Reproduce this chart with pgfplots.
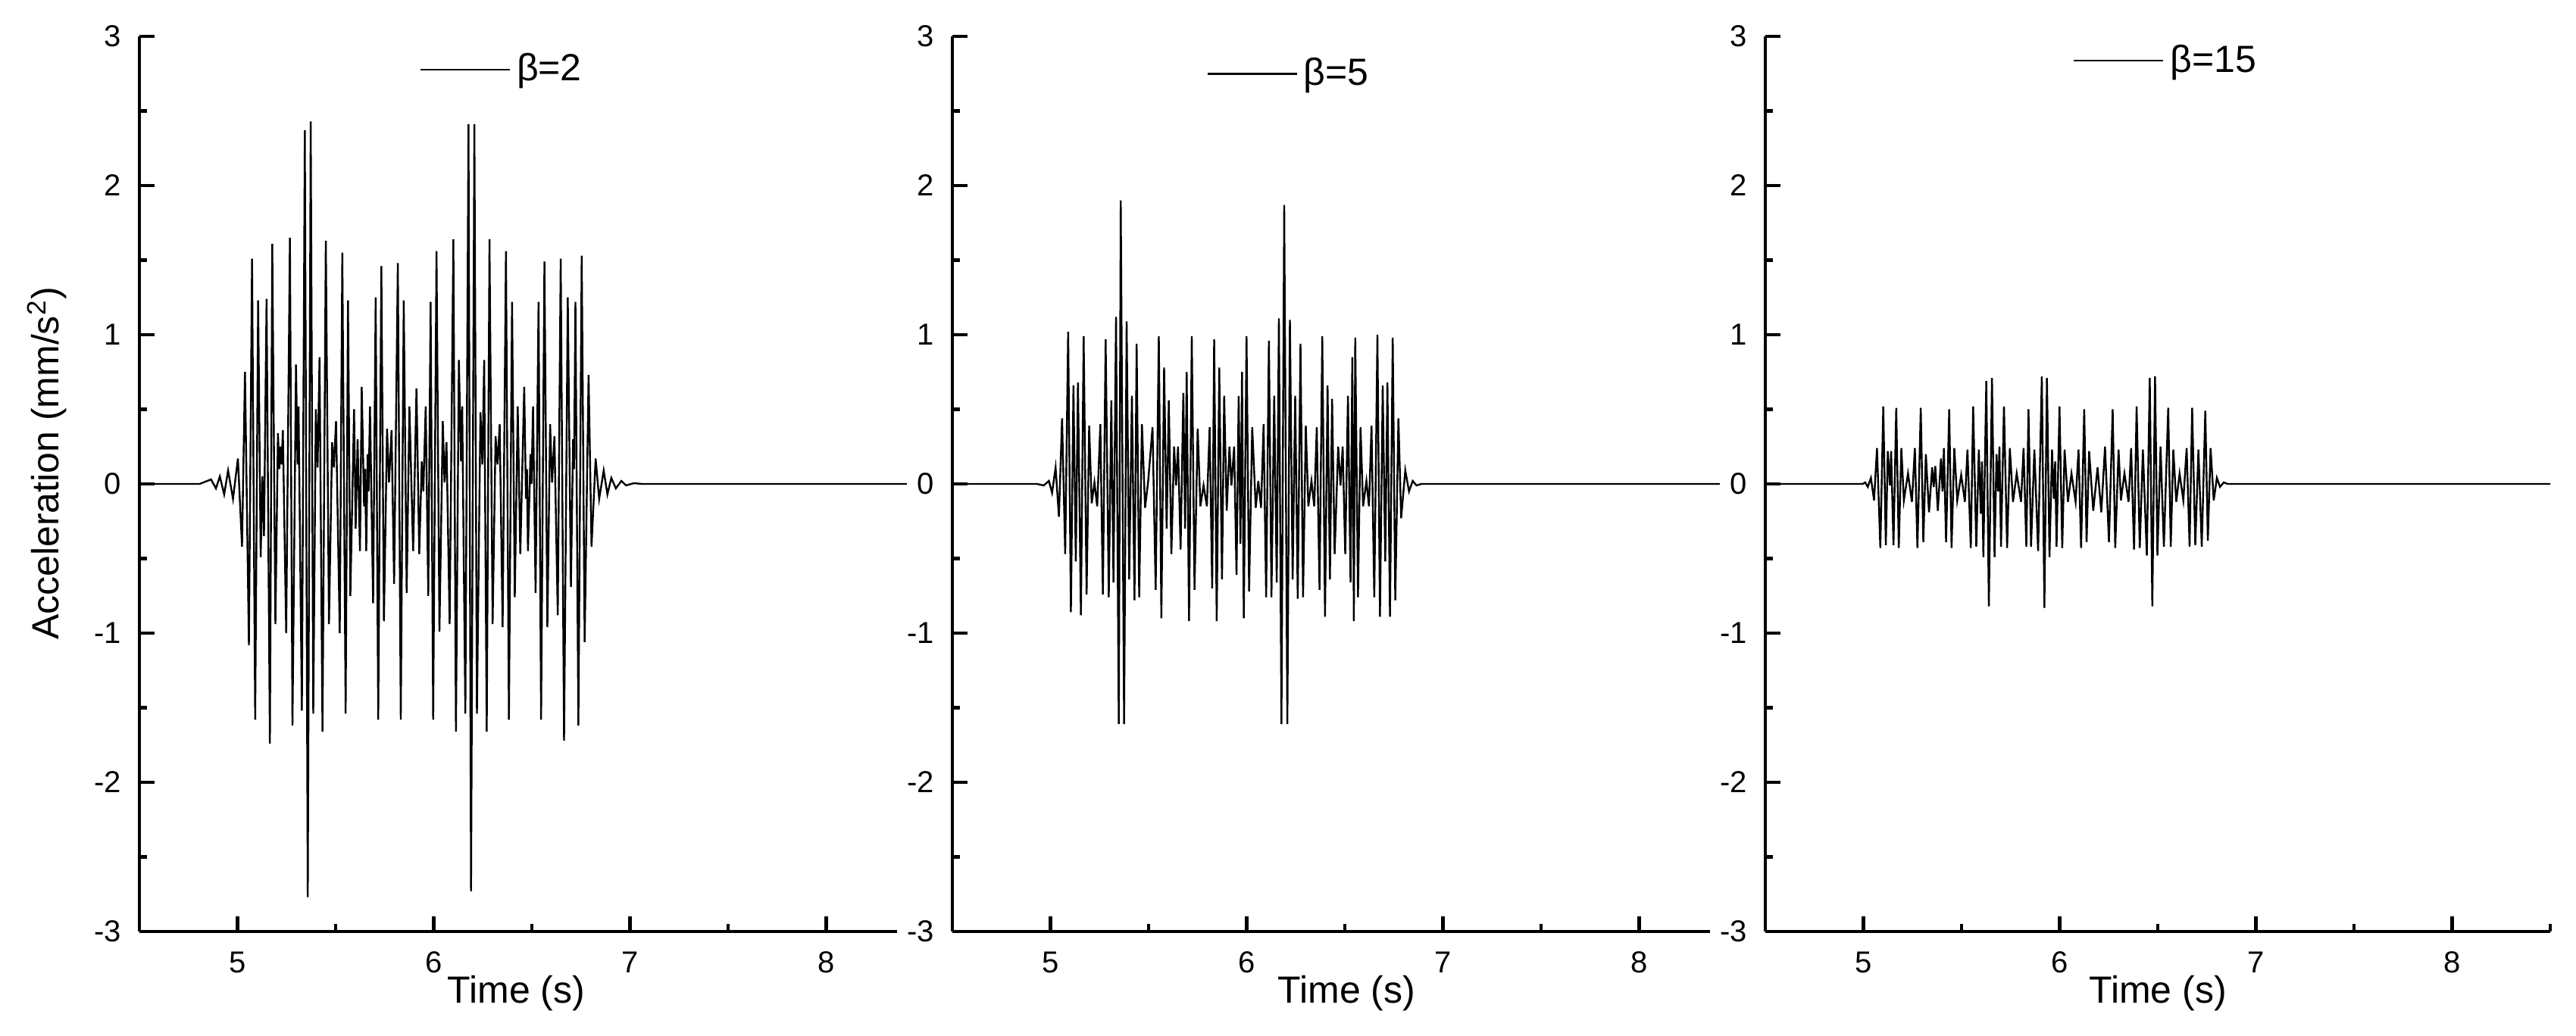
\documentclass[border=0pt]{standalone}
\usepackage{fontspec}
\setmainfont{Liberation Sans}
\usepackage{pgfplots}
\pgfplotsset{compat=1.18}

\pgfplotsset{
  accpanel/.style={
    width=259pt, height=295.5pt, scale only axis,
    xmin=4.5, xmax=8.5, ymin=-3, ymax=3,
    axis lines=left,
    axis line style={-, line width=1.2pt},
    every tick/.style={black, line width=1.2pt},
    tick align=inside,
    major tick length=5pt, minor tick length=2.5pt,
    xtick={5,6,7,8}, minor xtick={5.5,6.5,7.5,8.5},
    ytick={-3,-2,-1,0,1,2,3}, minor ytick={-2.5,-1.5,-0.5,0.5,1.5,2.5},
    xticklabels={5,6,7,8},
    yticklabels={-3,-2,-1,0,1,2,3},
    tick label style={font=\fontsize{10}{12}\selectfont},
    yticklabel style={fill=white, inner xsep=3.5pt, xshift=-2.25pt},
    xticklabel style={yshift=-3.2pt},
    xlabel={Time (s)},
    label style={font=\fontsize{12.5}{15}\selectfont},
    legend style={draw=none, fill=none, inner sep=0pt, anchor=west,
      font=\fontsize{12.5}{15}\selectfont},
    legend image code/.code={\draw[#1] (0pt,0pt) -- (29.5pt,0pt);},
  },
  wave/.style={black, line width=0.6pt, mark=none},
}

\begin{document}
\begin{tikzpicture}
\path[use as bounding box] (0,0) rectangle (850pt,342pt);

% beta = 2
\begin{axis}[accpanel, at={(46pt,34.5pt)}, anchor=south west,
  xlabel style={at={(axis description cs:0.48,0)}, anchor=center, yshift=-20.5pt},
  ylabel={Acceleration (mm/s\textsuperscript{2})},
  ylabel style={at={(axis description cs:0,0.523)}, anchor=center, yshift=30.5pt},
  legend style={at={(axis description cs:0.356,0.963)}}]
\addplot[wave] coordinates {
(4.5,0) (4.75,0) (4.807,0) (4.865,0.03) (4.890,-0.03) (4.910,0.05) (4.932,-0.07)
(4.952,0.09) (4.977,-0.10) (5.002,0.17) (5.023,-0.42) (5.038,0.75) (5.058,-1.08)
(5.074,1.51) (5.090,-1.58) (5.105,1.23) (5.118,-0.49) (5.127,0.05) (5.135,-0.35)
(5.148,1.24) (5.165,-1.74) (5.177,1.61) (5.193,-0.94) (5.206,0.34) (5.213,0.10)
(5.219,0.25) (5.225,0.13) (5.231,0.36) (5.248,-1.00) (5.267,1.65) (5.280,-1.62)
(5.298,0.80) (5.306,0.13) (5.311,0.52) (5.328,-1.52) (5.343,2.37) (5.358,-2.77)
(5.373,2.43) (5.386,-1.54) (5.399,0.50) (5.408,0.11) (5.418,0.85) (5.433,-1.66)
(5.450,1.63) (5.466,-0.94) (5.482,0.28) (5.491,0.11) (5.502,0.42) (5.521,-1.00)
(5.534,1.55) (5.551,-1.54) (5.563,1.23) (5.575,-0.75) (5.594,0.50) (5.602,-0.30)
(5.612,0.30) (5.624,-0.45) (5.633,0.65) (5.645,-0.15) (5.650,0.10) (5.656,-0.45)
(5.663,0.20) (5.668,-0.05) (5.675,0.52) (5.691,-0.80) (5.704,1.25) (5.717,-1.58)
(5.733,1.46) (5.746,-0.92) (5.762,0.37) (5.772,0.01) (5.785,0.36) (5.798,-0.67)
(5.817,1.48) (5.832,-1.58) (5.847,1.23) (5.862,-0.73) (5.876,0.52) (5.895,-0.45)
(5.912,0.64) (5.926,-0.47) (5.939,0.15) (5.947,-0.05) (5.959,0.52) (5.972,-0.75)
(5.984,1.22) (5.997,-1.58) (6.014,1.56) (6.029,-0.99) (6.046,0.42) (6.055,0.01)
(6.065,0.28) (6.081,-0.94) (6.100,1.64) (6.113,-1.66) (6.128,0.83) (6.139,0.15)
(6.145,0.52) (6.161,-1.54) (6.177,2.41) (6.190,-2.73) (6.207,2.41) (6.220,-1.54)
(6.238,0.48) (6.248,0.13) (6.257,0.83) (6.270,-1.66) (6.284,1.64) (6.300,-0.94)
(6.315,0.32) (6.325,0.13) (6.336,0.40) (6.351,-0.96) (6.368,1.56) (6.383,-1.58)
(6.399,1.22) (6.413,-0.76) (6.428,0.52) (6.441,-0.47) (6.461,0.65) (6.470,-0.10)
(6.475,0.10) (6.480,-0.45) (6.493,0.20) (6.498,0.00) (6.506,0.52) (6.519,-0.73)
(6.534,1.22) (6.547,-1.58) (6.564,1.49) (6.579,-0.96) (6.593,0.40) (6.603,0.01)
(6.615,0.32) (6.632,-0.88) (6.647,1.51) (6.664,-1.72) (6.683,1.25) (6.699,-0.69)
(6.710,0.30) (6.715,0.10) (6.722,1.22) (6.737,-1.62) (6.754,1.53) (6.769,-1.06)
(6.789,0.73) (6.804,-0.42) (6.825,0.17) (6.843,-0.10) (6.866,0.09) (6.885,-0.07)
(6.905,0.04) (6.928,-0.03) (6.956,0.02) (6.980,-0.01) (7.020,0.005) (7.060,0)
(8.5,0)
};
\addlegendentry{β=2}
\end{axis}

% beta = 5
\begin{axis}[accpanel, at={(314.25pt,34.5pt)}, anchor=south west,
  xlabel style={at={(axis description cs:0.5025,0)}, anchor=center, yshift=-20.5pt},
  legend style={at={(axis description cs:0.323,0.958)}}]
\addplot[wave] coordinates {
(4.5,0) (4.93,0) (4.965,-0.01) (4.992,0.02) (5.008,-0.06) (5.026,0.11) (5.043,-0.22)
(5.059,0.44) (5.075,-0.47) (5.090,1.02) (5.104,-0.86) (5.117,0.66) (5.129,-0.52)
(5.140,0.68) (5.155,-0.88) (5.169,0.99) (5.184,-0.74) (5.197,0.39) (5.210,-0.13)
(5.224,0.01) (5.238,-0.15) (5.254,0.40) (5.267,-0.74) (5.281,0.97) (5.297,-0.76)
(5.310,0.56) (5.321,-0.66) (5.334,1.12) (5.348,-1.61) (5.358,1.90) (5.375,-1.61)
(5.388,1.09) (5.401,-0.64) (5.415,0.59) (5.428,-0.78) (5.439,0.94) (5.452,-0.76)
(5.466,0.40) (5.482,-0.16) (5.498,0.02) (5.520,0.38) (5.536,-0.71) (5.552,0.99)
(5.565,-0.90) (5.579,0.78) (5.592,-0.30) (5.603,0.56) (5.616,-0.47) (5.630,0.25)
(5.640,-0.01) (5.650,0.25) (5.663,-0.44) (5.677,0.61) (5.686,-0.30) (5.694,0.75)
(5.706,-0.92) (5.720,0.99) (5.734,-0.71) (5.750,0.37) (5.764,-0.15) (5.780,-0.01)
(5.797,-0.15) (5.811,0.38) (5.824,-0.70) (5.834,0.97) (5.847,-0.92) (5.860,0.78)
(5.874,-0.64) (5.885,0.59) (5.898,-0.18) (5.912,0.25) (5.922,-0.01) (5.936,0.25)
(5.948,-0.61) (5.959,0.59) (5.968,-0.40) (5.976,0.75) (5.985,-0.90) (5.999,0.99)
(6.012,-0.72) (6.028,0.38) (6.046,-0.16) (6.059,0.02) (6.073,-0.16) (6.086,0.40)
(6.099,-0.76) (6.113,0.96) (6.126,-0.76) (6.140,0.59) (6.153,-0.66) (6.164,1.11)
(6.177,-1.61) (6.191,1.87) (6.207,-1.61) (6.220,1.10) (6.234,-0.64) (6.247,0.59)
(6.260,-0.77) (6.274,0.94) (6.287,-0.76) (6.301,0.39) (6.314,-0.15) (6.330,0.02)
(6.344,-0.15) (6.357,0.38) (6.371,-0.71) (6.385,0.99) (6.399,-0.89) (6.412,0.66)
(6.424,-0.64) (6.435,0.57) (6.448,-0.47) (6.466,0.25) (6.478,-0.01) (6.489,0.25)
(6.502,-0.47) (6.516,0.59) (6.529,-0.66) (6.538,0.85) (6.546,-0.92) (6.553,0.98)
(6.567,-0.76) (6.580,0.38) (6.593,-0.15) (6.610,0.02) (6.623,-0.15) (6.636,0.39)
(6.650,-0.76) (6.666,1.00) (6.679,-0.89) (6.693,0.66) (6.706,-0.52) (6.717,0.68)
(6.730,-0.89) (6.744,0.98) (6.757,-0.78) (6.773,0.44) (6.787,-0.23) (6.808,0.09)
(6.827,-0.05) (6.846,0.02) (6.865,-0.01) (6.891,0) (8.5,0)
};
\addlegendentry{β=5}
\end{axis}

% beta = 15
\begin{axis}[accpanel, at={(582.5pt,34.5pt)}, anchor=south west,
  xlabel style={at={(axis description cs:0.5,0)}, anchor=center, yshift=-20.5pt},
  legend style={at={(axis description cs:0.391,0.973)}}]
\addplot[wave] coordinates {
(4.5,0) (4.996,0) (5.009,0.01) (5.022,-0.02) (5.038,0.04) (5.054,-0.11) (5.069,0.24)
(5.086,-0.43) (5.101,0.52) (5.114,-0.41) (5.124,0.22) (5.135,-0.01) (5.141,0.22)
(5.153,-0.41) (5.167,0.51) (5.180,-0.43) (5.193,0.24) (5.206,-0.11) (5.227,0.07)
(5.247,-0.12) (5.262,0.24) (5.275,-0.43) (5.292,0.51) (5.305,-0.39) (5.318,0.20)
(5.334,-0.19) (5.350,0.11) (5.358,-0.02) (5.366,0.12) (5.379,-0.18) (5.395,0.17)
(5.403,-0.05) (5.410,0.24) (5.421,-0.39) (5.437,0.50) (5.449,-0.43) (5.463,0.24)
(5.478,-0.11) (5.498,0.06) (5.517,-0.12) (5.530,0.23) (5.547,-0.43) (5.559,0.52)
(5.575,-0.42) (5.588,0.23) (5.598,-0.20) (5.604,0.15) (5.611,-0.49) (5.626,0.69)
(5.639,-0.82) (5.655,0.71) (5.668,-0.49) (5.678,0.20) (5.686,-0.05) (5.693,0.25)
(5.701,-0.42) (5.716,0.52) (5.732,-0.43) (5.746,0.24) (5.762,-0.12) (5.781,0.07)
(5.803,-0.12) (5.816,0.24) (5.830,-0.42) (5.841,0.50) (5.854,-0.42) (5.871,0.23)
(5.890,-0.45) (5.909,0.72) (5.922,-0.83) (5.935,0.71) (5.948,-0.49) (5.961,0.23)
(5.970,-0.10) (5.977,0.15) (5.984,-0.42) (5.999,0.52) (6.013,-0.43) (6.025,0.23)
(6.042,-0.12) (6.060,0.07) (6.081,-0.12) (6.096,0.23) (6.109,-0.43) (6.125,0.50)
(6.137,-0.39) (6.150,0.22) (6.171,-0.18) (6.193,0.11) (6.212,-0.19) (6.231,0.25)
(6.251,-0.39) (6.270,0.50) (6.283,-0.43) (6.300,0.23) (6.312,-0.11) (6.330,0.07)
(6.351,-0.12) (6.364,0.24) (6.379,-0.44) (6.392,0.52) (6.408,-0.43) (6.424,0.23)
(6.444,-0.48) (6.459,0.71) (6.472,-0.82) (6.486,0.72) (6.498,-0.48) (6.514,0.25)
(6.531,-0.42) (6.553,0.51) (6.566,-0.42) (6.579,0.23) (6.594,-0.12) (6.611,0.07)
(6.630,-0.11) (6.647,0.24) (6.662,-0.42) (6.675,0.51) (6.691,-0.41) (6.707,0.23)
(6.724,-0.42) (6.742,0.49) (6.755,-0.38) (6.769,0.24) (6.785,-0.11) (6.801,0.04)
(6.817,-0.02) (6.836,0.01) (6.856,0) (8.5,0)
};
\addlegendentry{β=15}
\end{axis}
\end{tikzpicture}
\end{document}
